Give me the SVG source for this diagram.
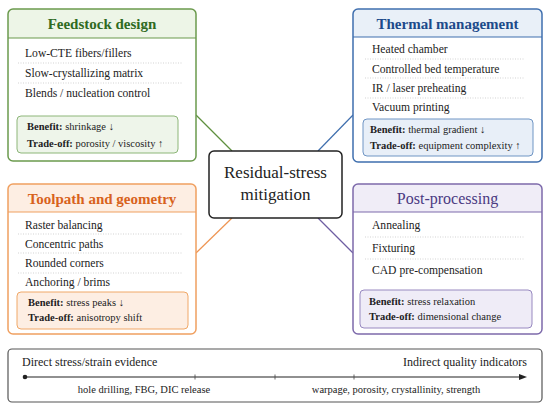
<svg xmlns="http://www.w3.org/2000/svg" width="550" height="410" viewBox="0 0 550 410" font-family="'Liberation Serif', 'Times New Roman', 'Noto Serif', 'DejaVu Serif', Times, serif">
<style>
text{font-family:"Liberation Serif","Times New Roman","Noto Serif","DejaVu Serif",Times,serif;fill:#222}
.title{font-size:15px;font-weight:bold;text-anchor:middle}
.item{font-size:11.6px}
.ben{font-size:10.5px}
.ben tspan.b{font-weight:bold}
.sep{stroke:#c8c8c8;stroke-width:0.8;stroke-dasharray:1 1.5;fill:none}
.conn{fill:none;stroke-width:1.2}
</style>
<rect width="550" height="410" fill="#fff"/>
<g id="connectors">
<line class="conn" x1="196" y1="115" x2="232" y2="151" stroke="#5f8f3e"/>
<line class="conn" x1="353" y1="115" x2="318" y2="151" stroke="#3f6fae"/>
<line class="conn" x1="196" y1="253" x2="232" y2="218" stroke="#ee9452"/>
<line class="conn" x1="353" y1="253" x2="318" y2="218" stroke="#6e5ea3"/>
</g>
<g id="feedstock">
<rect x="8" y="9" width="188" height="152" rx="5" fill="#fff"/>
<path d="M8 38V14a5 5 0 0 1 5-5h178a5 5 0 0 1 5 5v24z" fill="#edf5e7"/>
<line x1="8" y1="38" x2="196" y2="38" stroke="#6b9a4d" stroke-width="1.2"/>
<rect x="8" y="9" width="188" height="152" rx="5" fill="none" stroke="#6b9a4d" stroke-width="1.5"/>
<text class="title" x="102" y="29" style="fill:#2f6a22">Feedstock design</text>
<text class="item" x="25" y="57">Low-CTE fibers/fillers</text>
<line class="sep" x1="18" y1="63" x2="182" y2="63"/>
<text class="item" x="25" y="77">Slow-crystallizing matrix</text>
<line class="sep" x1="18" y1="83" x2="182" y2="83"/>
<text class="item" x="25" y="97">Blends / nucleation control</text>
<rect x="17" y="116" width="161" height="37" rx="4" fill="#eef5ea" stroke="#8db679" stroke-width="1"/>
<text class="ben" x="27" y="130"><tspan class="b">Benefit:</tspan> shrinkage ↓</text>
<text class="ben" x="27" y="147"><tspan class="b">Trade-off:</tspan> porosity / viscosity ↑</text>
</g>
<g id="thermal">
<rect x="353" y="9" width="189" height="153" rx="5" fill="#fff"/>
<path d="M353 37V14a5 5 0 0 1 5-5h179a5 5 0 0 1 5 5v23z" fill="#e9f0f8"/>
<line x1="353" y1="37" x2="542" y2="37" stroke="#3f6fae" stroke-width="1.2"/>
<rect x="353" y="9" width="189" height="153" rx="5" fill="none" stroke="#3f6fae" stroke-width="1.5"/>
<text class="title" x="447.5" y="29" style="fill:#1c4a8a">Thermal management</text>
<text class="item" x="372" y="53">Heated chamber</text>
<line class="sep" x1="365" y1="59" x2="525" y2="59"/>
<text class="item" x="372" y="73">Controlled bed temperature</text>
<line class="sep" x1="365" y1="78" x2="525" y2="78"/>
<text class="item" x="372" y="92">IR / laser preheating</text>
<line class="sep" x1="365" y1="98" x2="525" y2="98"/>
<text class="item" x="372" y="111">Vacuum printing</text>
<rect x="363" y="119" width="170" height="37" rx="4" fill="#e8eff8" stroke="#6f95c4" stroke-width="1"/>
<text class="ben" x="370" y="133"><tspan class="b">Benefit:</tspan> thermal gradient ↓</text>
<text class="ben" x="370" y="149"><tspan class="b">Trade-off:</tspan> equipment complexity ↑</text>
</g>
<g id="toolpath">
<rect x="8" y="184" width="188" height="150" rx="5" fill="#fff"/>
<path d="M8 212V189a5 5 0 0 1 5-5h178a5 5 0 0 1 5 5v23z" fill="#fdeee3"/>
<line x1="8" y1="212" x2="196" y2="212" stroke="#f0a060" stroke-width="1.2"/>
<rect x="8" y="184" width="188" height="150" rx="5" fill="none" stroke="#f0a060" stroke-width="1.5"/>
<text class="title" x="102" y="204" style="fill:#d8621c">Toolpath and geometry</text>
<text class="item" x="25" y="229">Raster balancing</text>
<line class="sep" x1="18" y1="234" x2="182" y2="234"/>
<text class="item" x="25" y="248">Concentric paths</text>
<line class="sep" x1="18" y1="253" x2="182" y2="253"/>
<text class="item" x="25" y="267">Rounded corners</text>
<line class="sep" x1="18" y1="273" x2="182" y2="273"/>
<text class="item" x="25" y="286">Anchoring / brims</text>
<rect x="17" y="292" width="171" height="37" rx="4" fill="#fdeee3" stroke="#f0a868" stroke-width="1"/>
<text class="ben" x="28" y="306"><tspan class="b">Benefit:</tspan> stress peaks ↓</text>
<text class="ben" x="28" y="321"><tspan class="b">Trade-off:</tspan> anisotropy shift</text>
</g>
<g id="postprocessing">
<rect x="353" y="184" width="189" height="150" rx="5" fill="#fff"/>
<path d="M353 212V189a5 5 0 0 1 5-5h179a5 5 0 0 1 5 5v23z" fill="#f0edf7"/>
<line x1="353" y1="212" x2="542" y2="212" stroke="#7d6aab" stroke-width="1.2"/>
<rect x="353" y="184" width="189" height="150" rx="5" fill="none" stroke="#7d6aab" stroke-width="1.5"/>
<text class="title" x="447.5" y="204" style="fill:#4a3a82;font-weight:normal;font-size:16px">Post-processing</text>
<text class="item" x="372" y="229">Annealing</text>
<line class="sep" x1="365" y1="237" x2="525" y2="237"/>
<text class="item" x="372" y="252">Fixturing</text>
<line class="sep" x1="365" y1="259" x2="525" y2="259"/>
<text class="item" x="372" y="274">CAD pre-compensation</text>
<rect x="360" y="290" width="172" height="38" rx="4" fill="#efecf7" stroke="#9889c0" stroke-width="1"/>
<text class="ben" x="369" y="305"><tspan class="b">Benefit:</tspan> stress relaxation</text>
<text class="ben" x="369" y="320"><tspan class="b">Trade-off:</tspan> dimensional change</text>
</g>
<g id="center">
<rect x="209" y="151" width="133" height="67" rx="5" fill="#fff" stroke="#222" stroke-width="1.5"/>
<text x="275.5" y="178" style="font-size:17px;text-anchor:middle">Residual-stress</text>
<text x="275.5" y="200" style="font-size:17px;text-anchor:middle">mitigation</text>
</g>
<g id="scale">
<rect x="8" y="349" width="534" height="53" rx="4" fill="#fff" stroke="#555" stroke-width="1.2"/>
<text x="22" y="366" style="font-size:12px">Direct stress/strain evidence</text>
<text x="527" y="366" style="font-size:12px;text-anchor:end">Indirect quality indicators</text>
<line x1="25" y1="377" x2="520" y2="377" stroke="#222" stroke-width="1.2"/>
<polygon points="527,377 519,374 519,380" fill="#222"/>
<circle cx="25" cy="377" r="2.3" fill="#222"/>
<line x1="195" y1="374.5" x2="195" y2="379.5" stroke="#444" stroke-width="0.8"/>
<line x1="275" y1="374.5" x2="275" y2="379.5" stroke="#444" stroke-width="0.8"/>
<line x1="354" y1="374.5" x2="354" y2="379.5" stroke="#444" stroke-width="0.8"/>
<text x="144" y="393" style="font-size:10.5px;text-anchor:middle">hole drilling, FBG, DIC release</text>
<text x="396" y="393" style="font-size:10.5px;text-anchor:middle">warpage, porosity, crystallinity, strength</text>
</g>
</svg>
